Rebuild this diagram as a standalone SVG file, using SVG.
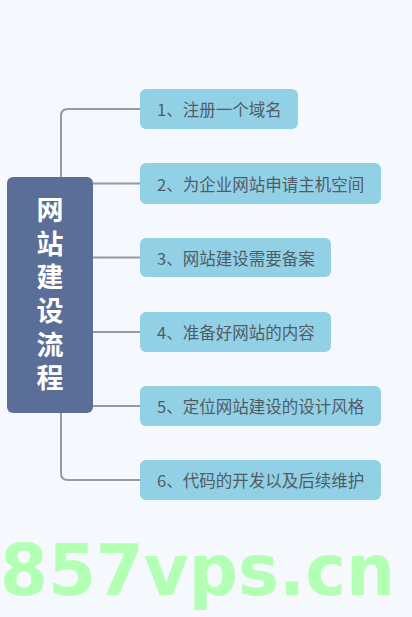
<svg xmlns="http://www.w3.org/2000/svg" width="412" height="617" viewBox="0 0 412 617">
<style>
.bg{fill:#f5f9fd}
.node rect{fill:#92d1e5}
.node text{font-family:"Noto Sans CJK SC","Noto Sans",sans-serif;font-size:16.5px;fill:#515b66;dominant-baseline:central}
.root rect{fill:#5a6e98}
.root text{font-family:"Noto Sans CJK SC","Noto Sans",sans-serif;font-size:27px;font-weight:bold;fill:#ffffff;writing-mode:vertical-rl;letter-spacing:6.6px}
.conn{fill:none;stroke:#9898a6;stroke-width:2}
.wm{font-family:"DejaVu Sans",sans-serif;font-weight:bold;font-size:72px;fill:#b3ffb3}
</style>
<rect class="bg" x="0" y="0" width="412" height="617"/>
<g id="connectors">
<path class="conn" d="M61 177 V116 Q61 109 68 109 H140"/>
<path class="conn" d="M61 413 V473 Q61 480 68 480 H140"/>
<path class="conn" d="M93 183.5 H140"/>
<path class="conn" d="M93 257.5 H140"/>
<path class="conn" d="M93 332 H140"/>
<path class="conn" d="M93 406 H140"/>
</g>
<g id="root" class="root">
<rect x="7" y="177" width="86" height="236" rx="6"/>
<text x="50" y="196.5">网站建设流程</text>
</g>
<g id="n1" class="node"><rect x="140" y="89" width="158" height="40" rx="6"/><text x="157" y="109">1、注册一个域名</text></g>
<g id="n2" class="node"><rect x="140" y="163" width="241" height="41" rx="6"/><text x="157" y="183.5">2、为企业网站申请主机空间</text></g>
<g id="n3" class="node"><rect x="140" y="238" width="191" height="39" rx="6"/><text x="157" y="257.5">3、网站建设需要备案</text></g>
<g id="n4" class="node"><rect x="140" y="312" width="191" height="40" rx="6"/><text x="157" y="332">4、准备好网站的内容</text></g>
<g id="n5" class="node"><rect x="140" y="386" width="241" height="40" rx="6"/><text x="157" y="406">5、定位网站建设的设计风格</text></g>
<g id="n6" class="node"><rect x="140" y="460" width="241" height="40" rx="6"/><text x="157" y="480">6、代码的开发以及后续维护</text></g>
<text class="wm" x="0" y="595" textLength="395" lengthAdjust="spacingAndGlyphs">857vps.cn</text>
</svg>
